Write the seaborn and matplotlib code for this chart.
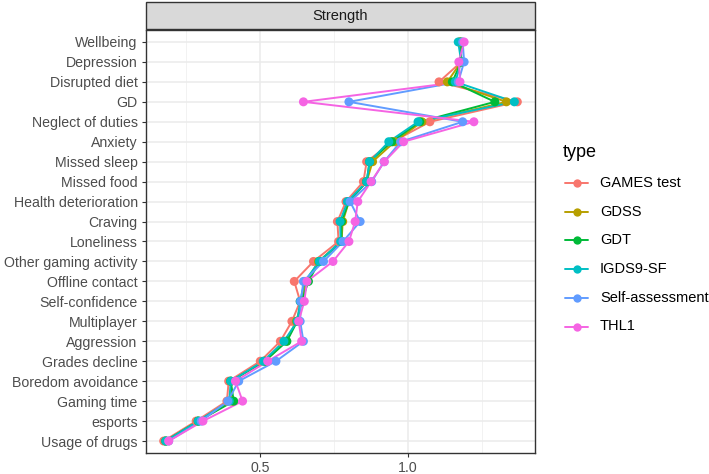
import matplotlib
matplotlib.use("Agg")
import matplotlib.pyplot as plt
from matplotlib.patches import Rectangle
from matplotlib.lines import Line2D
import seaborn as sns
import pandas as pd

categories = ["Wellbeing", "Depression", "Disrupted diet", "GD", "Neglect of duties",
              "Anxiety", "Missed sleep", "Missed food", "Health deterioration", "Craving",
              "Loneliness", "Other gaming activity", "Offline contact", "Self-confidence",
              "Multiplayer", "Aggression", "Grades decline", "Boredom avoidance",
              "Gaming time", "esports", "Usage of drugs"]

types = ["GAMES test", "GDSS", "GDT", "IGDS9-SF", "Self-assessment", "THL1"]

games_test = [1.175, 1.18, 1.105, 1.37, 1.074, 0.948, 0.86, 0.849, 0.79, 0.761, 0.765,
              0.68, 0.615, 0.635, 0.607, 0.568, 0.50, 0.393, 0.387, 0.283, 0.173]
gdss = [1.175, 1.18, 1.133, 1.333, 1.047, 0.955, 0.88, 0.86, 0.80, 0.779, 0.775,
        0.697, 0.655, 0.64, 0.622, 0.588, 0.515, 0.40, 0.404, 0.29, 0.18]
gdt = [1.18, 1.18, 1.15, 1.294, 1.04, 0.945, 0.87, 0.86, 0.80, 0.775, 0.775,
       0.70, 0.663, 0.64, 0.625, 0.59, 0.515, 0.40, 0.41, 0.29, 0.18]
igds9_sf = [1.17, 1.18, 1.16, 1.36, 1.034, 0.935, 0.87, 0.86, 0.795, 0.77, 0.772,
            0.70, 0.65, 0.635, 0.625, 0.58, 0.51, 0.40, 0.395, 0.29, 0.18]
self_assessment = [1.185, 1.19, 1.17, 0.80, 1.185, 0.975, 0.919, 0.877, 0.804, 0.838, 0.78,
                   0.714, 0.646, 0.637, 0.635, 0.646, 0.553, 0.427, 0.39, 0.30, 0.19]
thl1 = [1.19, 1.172, 1.176, 0.646, 1.223, 0.985, 0.92, 0.875, 0.83, 0.821, 0.80,
        0.746, 0.658, 0.649, 0.63, 0.64, 0.525, 0.416, 0.44, 0.306, 0.19]

colors = ["#F8766D", "#B79F00", "#00BA38", "#00BFC4", "#619CFF", "#F564E3"]

series = [games_test, gdss, gdt, igds9_sf, self_assessment, thl1]
rows = []
for t, vals in zip(types, series):
    for i, (c, v) in enumerate(zip(categories, vals)):
        rows.append({"type": t, "node": c, "pos": i, "value": v})
df = pd.DataFrame(rows)
palette = dict(zip(types, colors))

sns.set_theme(style="white")
plt.rcParams["font.family"] = ["Liberation Sans", "DejaVu Sans"]

fig = plt.figure(figsize=(7.09, 4.74), dpi=100)
W, H = 709, 474
left, right, top, bottom = 146, 535, 30, 453
ax = fig.add_axes([left / W, 1 - bottom / H, (right - left) / W, (bottom - top) / H])

sns.lineplot(data=df, x="value", y="pos", hue="type", palette=palette, hue_order=types,
             orient="y", sort=True, estimator=None, linewidth=1.4, legend=False, ax=ax,
             zorder=3)
sns.scatterplot(data=df, x="value", y="pos", hue="type", palette=palette, hue_order=types,
                s=42, linewidth=0, legend=False, ax=ax, zorder=4)

vmin, vmax = df["value"].min(), df["value"].max()
pad = (vmax - vmin) * 0.05
ax.set_xlim(vmin - pad, vmax + pad)
ax.set_ylim(len(categories) - 1 + 0.6, -0.6)

ax.set_xticks([0.5, 1.0])
ax.set_xticklabels(["0.5", "1.0"])
ax.set_xticks([0.25, 0.75, 1.25], minor=True)
ax.set_yticks(range(len(categories)))
ax.set_yticklabels(categories)
ax.set_xlabel("")
ax.set_ylabel("")

ax.grid(True, which="major", color="#EBEBEB", linewidth=1.1, zorder=0)
ax.grid(True, which="minor", axis="x", color="#F2F2F2", linewidth=0.7, zorder=0)
ax.set_axisbelow(True)
for sp in ax.spines.values():
    sp.set_color("#333333")
    sp.set_linewidth(1.0)
ax.tick_params(axis="both", which="major", length=3, width=0.8, color="#333333",
               labelsize=10.2, labelcolor="#4D4D4D", pad=3, left=True, bottom=True)
ax.tick_params(axis="both", which="minor", length=0)

# facet strip
strip = Rectangle((left / W, 1 - 29 / H), (right - left) / W, 27 / H, transform=fig.transFigure,
                  facecolor="#D9D9D9", edgecolor="#333333", linewidth=1.0)
fig.patches.append(strip)
fig.text((left + right) / 2 / W, 1 - 16 / H, "Strength", ha="center", va="center",
         fontsize=10.5, color="#1A1A1A")

# legend (ggplot-like layout)
fig.text(563 / W, 1 - 152 / H, "type", ha="left", va="center", fontsize=13, color="black")
for i, (t, c) in enumerate(zip(types, colors)):
    y = 1 - (183 + 28.7 * i) / H
    fig.add_artist(Line2D([565 / W, 588 / W], [y, y], transform=fig.transFigure,
                          color=c, linewidth=1.4))
    fig.add_artist(Line2D([576.5 / W], [y], transform=fig.transFigure, color=c,
                          marker="o", markersize=6, markeredgewidth=0, linestyle="none"))
    fig.text(600 / W, y, t, ha="left", va="center", fontsize=10.5, color="black")

fig.savefig("out.png", dpi=100)
